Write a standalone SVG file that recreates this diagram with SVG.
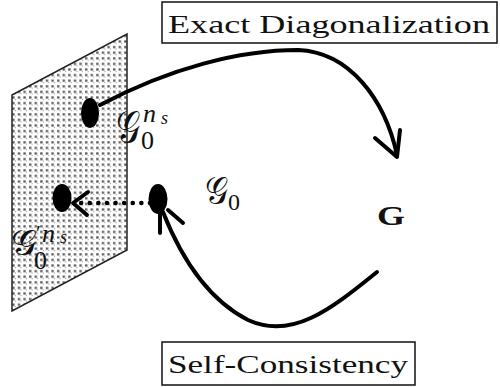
<svg xmlns="http://www.w3.org/2000/svg" width="500" height="387" viewBox="0 0 500 387">
<defs>
<pattern id="speck" width="5.6" height="5.6" patternUnits="userSpaceOnUse">
<rect x="1" y="1.2" width="2.4" height="2.2" fill="#555"/>
<rect x="3.6" y="3.8" width="1" height="1" fill="#888"/>
</pattern>
<style>
.box{fill:#fff;stroke:#111;stroke-width:1.5}
.lbl{font-family:"Liberation Serif","DejaVu Serif",serif;fill:#111}
.scr{font-family:"DejaVu Serif","DejaVu Sans","Noto Sans",serif}
.it{font-style:italic}
.wire{fill:none;stroke:#000;stroke-width:4;stroke-linecap:round;stroke-linejoin:round}
.dot{fill:#000}
</style>
</defs>
<rect width="500" height="387" fill="#fff"/>
<g id="plane">
<polygon points="12,95 127,34 127,250 12,311" fill="#fff"/>
<polygon points="12,95 127,34 127,250 12,311" fill="url(#speck)" stroke="#222" stroke-width="1.5"/>
</g>
<g id="connectors">
<path class="wire" d="M100 105 C170 68 240 50 298 50 C350 52 385 100 397 155"/>
<path class="wire" d="M375 138 L397 157 L400 130"/>
<path class="wire" d="M377 272 C330 310 292 340 248 320 C205 298 180 255 163 212"/>
<path class="wire" d="M160 213 L160 233 M168 210 L183 223"/>
<path d="M150 203 L76 203" fill="none" stroke="#000" stroke-width="4.5" stroke-linecap="round" stroke-dasharray="0.1 8.5"/>
<path class="wire" d="M88 192 L73 203 L87 215"/>
</g>
<g id="dot-upper"><ellipse class="dot" cx="90" cy="113" rx="9" ry="15"/></g>
<g id="dot-left"><ellipse class="dot" cx="62" cy="198" rx="9.5" ry="14"/></g>
<g id="dot-mid"><ellipse class="dot" cx="158" cy="199" rx="9.5" ry="15"/></g>
<g id="label-upper">
<text class="lbl"><tspan class="scr" x="116" y="142" font-size="44" textLength="24" lengthAdjust="spacingAndGlyphs">𝒢</tspan><tspan x="141" y="149" font-size="26">0</tspan><tspan class="it" x="143" y="122" font-size="26">n</tspan><tspan class="it" x="161" y="124" font-size="18">s</tspan></text>
</g>
<g id="label-mid">
<text class="lbl"><tspan class="scr" x="205" y="204" font-size="38" textLength="23" lengthAdjust="spacingAndGlyphs">𝒢</tspan><tspan x="228" y="210" font-size="24">0</tspan></text>
</g>
<g id="label-lower">
<text class="lbl"><tspan class="scr" x="11" y="255" font-size="36" textLength="26" lengthAdjust="spacingAndGlyphs">𝒢</tspan><tspan x="36" y="240" font-size="22">′</tspan><tspan class="it" x="42" y="242" font-size="26">n</tspan><tspan class="it" x="60" y="243" font-size="18">s</tspan><tspan x="34" y="269" font-size="26">0</tspan></text>
</g>
<g id="G">
<text class="lbl" x="377" y="225" font-size="27" font-weight="bold" textLength="28" lengthAdjust="spacingAndGlyphs">G</text>
</g>
<g id="exact-diag">
<rect class="box" x="162" y="2" width="335" height="41"/>
<text class="lbl" x="168" y="33" font-size="26" textLength="322" lengthAdjust="spacingAndGlyphs">Exact Diagonalization</text>
</g>
<g id="self-consistency">
<rect class="box" x="162" y="342" width="253" height="43"/>
<text class="lbl" x="168" y="373" font-size="26" textLength="240" lengthAdjust="spacingAndGlyphs">Self-Consistency</text>
</g>
</svg>
